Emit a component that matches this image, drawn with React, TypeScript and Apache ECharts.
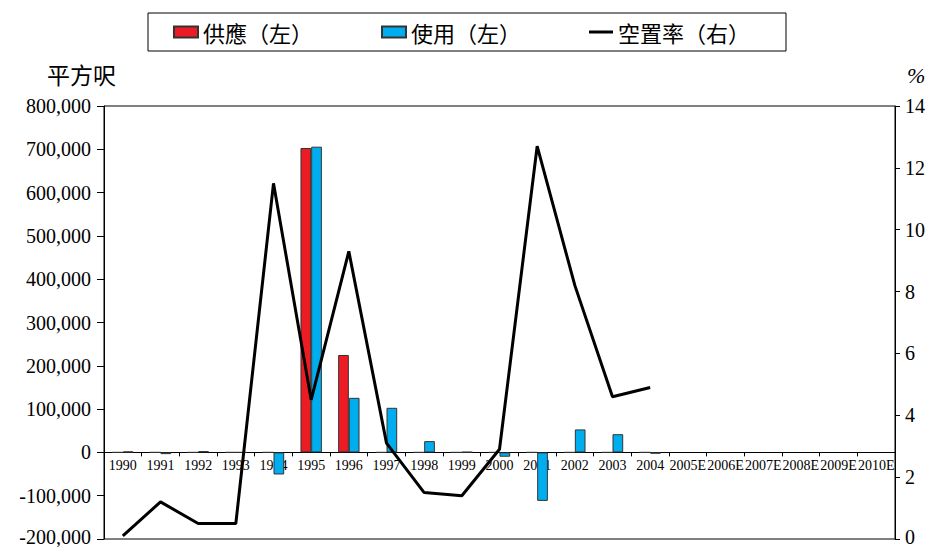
import React, { useEffect, useRef } from "react";
import * as echarts from "echarts";

// Years on the category axis
const years = [
  "1990", "1991", "1992", "1993", "1994", "1995", "1996", "1997", "1998", "1999", "2000",
  "2001", "2002", "2003", "2004", "2005E", "2006E", "2007E", "2008E", "2009E", "2010E",
];

// 供應 (sq ft, left axis)
const supply = [0, 0, 0, 0, 0, 703000, 225000, 0, 0, 0, 0, 0, 0, 0, 0, null, null, null, null, null, null];

// 使用 (sq ft, left axis)
const usage = [
  2000, -4000, 3000, 0, -51000, 706000, 126000, 103000, 26000, 1000, -10000,
  -112000, 53000, 42000, -3000, null, null, null, null, null, null,
];

// 空置率 (%, right axis)
const vacancy = [
  0.1, 1.2, 0.5, 0.5, 11.5, 4.5, 9.3, 3.1, 1.5, 1.4, 2.9,
  12.7, 8.2, 4.6, 4.9, null, null, null, null, null, null,
];

const leftTicks = { min: -200000, max: 800000, interval: 100000 };
const rightTicks = { min: 0, max: 14, interval: 2 };

const SERIF = "'Liberation Serif', 'Times New Roman', 'Noto Sans CJK TC', serif";
const CJK = "'Noto Sans CJK TC', 'Liberation Serif', sans-serif";

// Thin horizontal stroke for the line legend entry (hairline guides keep the box 24x11)
const LINE_ICON = "path://M0,0L24,0L24,0.01L0,0.01Z M0,4L24,4L24,7L0,7Z M0,10.99L24,10.99L24,11L0,11Z";

const WIDTH = 928;
const HEIGHT = 547;
const GRID = { left: 104, right: 33, top: 106, bottom: 8 };

// The category axis (line, ticks and year labels) sits on the left axis's zero
const plotHeight = HEIGHT - GRID.top - GRID.bottom;
const zeroOffset = -plotHeight * (0 - leftTicks.min) / (leftTicks.max - leftTicks.min);

// Lowest tick label is nudged up a little so it stays inside the page
const lowRich = {
  low: { fontFamily: SERIF, fontSize: 20, lineHeight: 14, color: "#000", padding: [0, 0, 4, 0] },
};

export default function App() {
  const ref = useRef<HTMLDivElement>(null);

  useEffect(() => {
    document.body.style.margin = "0";
    if (!ref.current) return;
    const chart = echarts.init(ref.current, undefined, { renderer: "svg" });
    chart.setOption({
      animation: false,
      backgroundColor: "#fff",
      legend: {
        left: 148,
        top: 13,
        padding: [8, 36, 8, 25],
        borderColor: "#000",
        borderWidth: 1,
        itemWidth: 24,
        itemHeight: 11,
        itemGap: 68,
        textStyle: { fontFamily: CJK, fontSize: 22, color: "#000" },
        data: [
          { name: "供應（左）", icon: "rect" },
          { name: "使用（左）", icon: "rect" },
          { name: "空置率（右）", icon: LINE_ICON, itemStyle: { color: "#000", borderWidth: 0 } },
        ],
      },
      grid: {
        ...GRID,
        outerBoundsMode: "none",
        show: true,
        borderColor: "#000",
        borderWidth: 1,
        backgroundColor: "transparent",
      },
      xAxis: {
        type: "category",
        data: years,
        boundaryGap: true,
        position: "bottom",
        offset: zeroOffset,
        axisLine: { onZero: false, lineStyle: { color: "#000", width: 1 } },
        axisTick: { show: true, length: 4, lineStyle: { color: "#000" } },
        axisLabel: {
          interval: 0,
          margin: 6,
          fontFamily: SERIF,
          fontSize: 14,
          color: "#000",
        },
      },
      yAxis: [
        {
          type: "value",
          ...leftTicks,
          axisLine: { show: true, lineStyle: { color: "#000" } },
          axisTick: { show: true, length: 7, lineStyle: { color: "#000" } },
          splitLine: { show: false },
          axisLabel: {
            margin: 13,
            fontFamily: SERIF,
            fontSize: 20,
            lineHeight: 14,
            color: "#000",
            rich: lowRich,
            formatter: (v: number) => {
              const s = v.toLocaleString("en-US");
              return v === leftTicks.min ? `{low|${s}}` : s;
            },
          },
        },
        {
          type: "value",
          ...rightTicks,
          position: "right",
          axisLine: { show: true, lineStyle: { color: "#000" } },
          axisTick: { show: true, length: 5, lineStyle: { color: "#000" } },
          splitLine: { show: false },
          axisLabel: {
            margin: 10,
            fontFamily: SERIF,
            fontSize: 20,
            lineHeight: 14,
            color: "#000",
            rich: lowRich,
            formatter: (v: number) => (v === rightTicks.min ? `{low|${v}}` : String(v)),
          },
        },
      ],
      graphic: [
        {
          type: "text",
          left: 47,
          top: 62,
          style: { text: "平方呎", font: `23px ${CJK}`, fill: "#000" },
        },
        {
          type: "text",
          left: 907,
          top: 64,
          style: { text: "%", font: `italic 22px ${SERIF}`, fill: "#000" },
        },
      ],
      series: [
        {
          name: "供應（左）",
          type: "bar",
          yAxisIndex: 0,
          data: supply,
          barWidth: "28.4%",
          barGap: "0%",
          itemStyle: { color: "#ED1C24", borderColor: "#333", borderWidth: 1 },
        },
        {
          name: "使用（左）",
          type: "bar",
          yAxisIndex: 0,
          data: usage,
          barWidth: "28.4%",
          barGap: "0%",
          itemStyle: { color: "#00AEEF", borderColor: "#333", borderWidth: 1 },
        },
        {
          name: "空置率（右）",
          type: "line",
          yAxisIndex: 1,
          data: vacancy,
          symbol: "none",
          lineStyle: { color: "#000", width: 3 },
          itemStyle: { color: "#000" },
          z: 5,
        },
      ],
    });
    return () => chart.dispose();
  }, []);

  return <div ref={ref} style={{ width: WIDTH, height: HEIGHT }} />;
}
